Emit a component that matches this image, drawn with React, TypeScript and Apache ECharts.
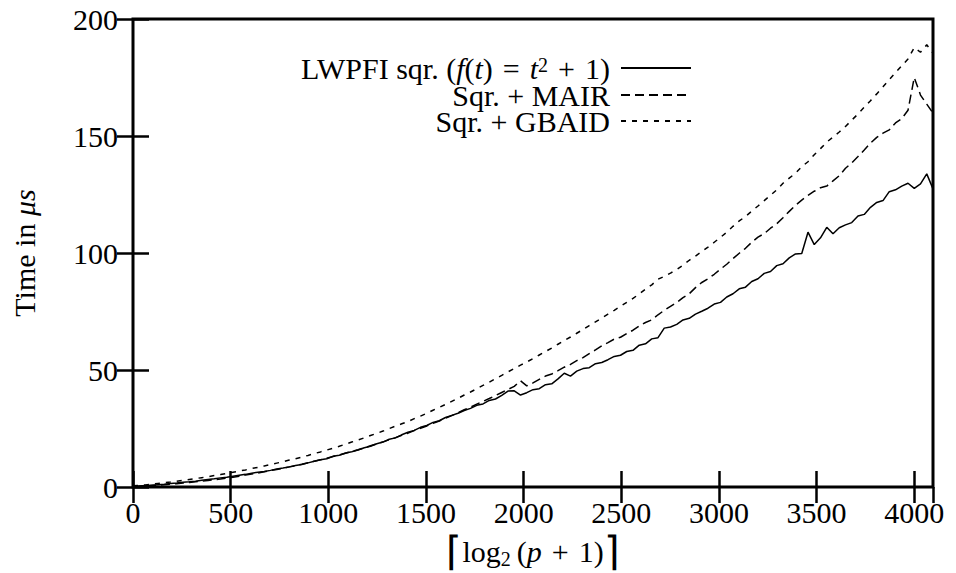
import React, { useEffect, useRef } from 'react';
import * as echarts from 'echarts';

// Sample spacing along the x axis (⌈log2(p+1)⌉), from 0 to 4096
const X_STEP = 32;
const X_MAX = 4096;

// Running time in µs, one value per X_STEP
const lwpfiSqr = [
  0.3, 0.4, 0.6, 0.8, 1.0, 1.2, 1.5, 1.7, 2.0, 2.2,
  2.5, 2.9, 3.2, 3.5, 3.9, 4.2, 4.6, 5.0, 5.4, 5.9,
  6.3, 6.6, 7.1, 7.7, 8.1, 8.6, 9.2, 9.6, 10.3, 11.0,
  11.6, 12.1, 13.1, 13.6, 14.5, 15.1, 15.8, 16.8, 17.4, 18.5,
  19.2, 20.4, 21.0, 22.3, 23.4, 24.2, 25.5, 26.3, 27.6, 28.3,
  29.7, 30.6, 31.5, 32.7, 33.6, 34.9, 35.5, 37.0, 37.6, 39.2,
  41.0, 41.1, 39.3, 40.3, 41.6, 42.0, 43.7, 44.1, 46.2, 48.6,
  47.4, 49.5, 50.6, 51.0, 52.7, 53.2, 54.4, 55.8, 56.3, 57.9,
  58.4, 60.6, 61.2, 63.3, 63.8, 67.9, 68.4, 69.5, 71.4, 72.1,
  73.9, 75.1, 76.4, 78.2, 78.9, 81.2, 82.6, 84.7, 85.4, 87.8,
  89.0, 91.3, 92.1, 94.6, 95.4, 97.9, 99.6, 99.8, 108.9, 103.6,
  106.5, 111.0, 108.2, 110.8, 112.0, 113.0, 115.8, 116.5, 119.5, 121.6,
  122.4, 126.2, 127.0, 128.6, 129.8, 127.6, 129.5, 133.8, 127.4,
];

const sqrMair = [
  0.2, 0.3, 0.4, 0.6, 0.8, 1.0, 1.2, 1.4, 1.7, 1.9,
  2.2, 2.5, 2.8, 3.1, 3.4, 3.8, 4.2, 4.6, 5.1, 5.5,
  6.0, 6.5, 7.0, 7.5, 8.0, 8.6, 9.1, 9.7, 10.4, 11.0,
  11.6, 12.3, 13.0, 13.7, 14.4, 15.2, 15.9, 16.7, 17.6, 18.4,
  19.3, 20.2, 21.1, 22.1, 23.0, 24.1, 25.1, 26.1, 27.2, 28.2,
  29.4, 30.5, 31.7, 33.0, 34.1, 35.4, 36.6, 37.8, 39.1, 40.4,
  41.7, 43.0, 45.4, 43.2, 44.5, 46.0, 47.4, 48.3, 49.7, 51.2,
  52.4, 54.0, 55.3, 57.0, 58.6, 60.3, 61.7, 63.2, 64.0, 65.6,
  67.0, 68.8, 70.3, 71.4, 73.6, 75.5, 77.2, 78.8, 80.9, 82.6,
  85.2, 87.4, 89.0, 90.9, 93.1, 95.2, 97.6, 99.9, 102.0, 104.6,
  106.8, 108.3, 110.6, 112.5, 115.1, 117.8, 120.4, 122.6, 124.6, 126.4,
  127.9, 128.6, 130.8, 133.0, 136.2, 138.5, 141.2, 144.0, 147.0, 149.4,
  151.2, 152.6, 155.6, 157.4, 161.0, 175.0, 167.5, 163.6, 159.8,
];

const sqrGbaid = [
  0.5, 0.7, 0.9, 1.2, 1.5, 1.8, 2.1, 2.5, 2.8, 3.2,
  3.6, 4.0, 4.4, 4.9, 5.3, 5.8, 6.3, 6.8, 7.3, 7.9,
  8.4, 9.0, 9.6, 10.2, 10.8, 11.5, 12.1, 12.8, 13.5, 14.3,
  15.0, 15.8, 16.6, 17.4, 18.3, 19.2, 20.1, 21.0, 22.0, 22.9,
  23.9, 25.0, 26.0, 27.0, 28.0, 29.2, 30.3, 31.5, 32.8, 34.0,
  35.3, 36.6, 37.9, 39.3, 40.6, 42.0, 43.4, 44.8, 46.3, 47.7,
  49.2, 50.6, 52.1, 53.4, 54.9, 56.4, 57.9, 59.4, 61.0, 62.6,
  64.1, 65.7, 67.3, 69.0, 70.6, 72.2, 73.9, 75.5, 77.2, 78.9,
  80.6, 82.5, 84.5, 86.4, 88.8, 90.0, 91.4, 92.9, 94.8, 96.9,
  98.7, 100.6, 102.5, 104.6, 106.7, 108.9, 111.4, 113.7, 115.6, 117.9,
  120.1, 122.4, 124.7, 127.0, 129.8, 132.0, 134.1, 136.9, 139.0, 142.0,
  144.6, 147.4, 149.5, 151.7, 154.1, 156.8, 159.4, 162.3, 165.1, 168.0,
  171.0, 174.1, 177.1, 180.0, 182.9, 187.8, 185.8, 189.0, 185.4,
];

const X_INTERVAL = 500;
const Y_MIN = 0;
const Y_MAX = 200;
const Y_INTERVAL = 50;

const seriesNames = ['LWPFI sqr. (f(t) = t² + 1)', 'Sqr. + MAIR', 'Sqr. + GBAID'];
const legendLabels = [
  '{n|LWPFI sqr. (}{it|f}{n|(}{it|t}{n|)\u2004=\u2004}{it|t}{sup|2}{n|\u2004+\u20041)}',
  '{n|Sqr. + MAIR}',
  '{n|Sqr. + GBAID}',
];
const seriesValues = [lwpfiSqr, sqrMair, sqrGbaid];
const dashPatterns: (string | number[])[] = ['solid', [9, 5], [5, 6]];

const FONT = 'Liberation Serif';
const INK = '#000';
const FS = 30;

const makeRich = (lh: number) => ({
  n: { fontFamily: FONT, fontSize: FS, color: INK, lineHeight: lh },
  it: { fontFamily: FONT, fontSize: FS, fontStyle: 'italic', color: INK, lineHeight: lh },
  sup: { fontFamily: FONT, fontSize: 20, color: INK, verticalAlign: 'top', lineHeight: 12 },
  sub: { fontFamily: FONT, fontSize: 20, color: INK, verticalAlign: 'bottom', lineHeight: 18 },
  br: { fontFamily: FONT, fontSize: 40, color: INK, lineHeight: lh },
});

const tick = { inside: true, length: 16, lineStyle: { color: INK, width: 2.5 } };

export default function App() {
  const ref = useRef<HTMLDivElement>(null);

  useEffect(() => {
    if (!ref.current) return;
    const chart = echarts.init(ref.current, undefined, { renderer: 'svg' });

    const legendTops = [53, 80, 106];
    const legendLineHeights = [26, 24, 24];

    chart.setOption({
      animation: false,
      backgroundColor: '#fff',
      textStyle: { fontFamily: FONT, color: INK },
      grid: {
        left: 133,
        right: 23,
        top: 19,
        bottom: 86,
        outerBoundsMode: 'none',
        show: true,
        borderColor: INK,
        borderWidth: 3,
        backgroundColor: 'transparent',
      },
      legend: seriesNames.map((name, k) => ({
        data: [name],
        orient: 'vertical',
        right: 264,
        top: legendTops[k],
        align: 'right',
        itemWidth: 70,
        itemHeight: 14,
        padding: 0,
        selectedMode: false,
        itemStyle: { opacity: 0, borderWidth: 0 },
        formatter: () => legendLabels[k],
        textStyle: {
          fontFamily: FONT,
          fontSize: FS,
          color: INK,
          lineHeight: legendLineHeights[k],
          padding: [0, 6, 0, 0],
          rich: makeRich(legendLineHeights[k]),
        },
      })),
      xAxis: [
        {
          type: 'value',
          min: 0,
          max: X_MAX,
          interval: X_INTERVAL,
          position: 'bottom',
          axisLine: { show: false, lineStyle: { color: INK } },
          axisTick: tick,
          splitLine: { show: false },
          axisLabel: {
            color: INK,
            fontFamily: FONT,
            fontSize: FS,
            margin: 10,
            showMaxLabel: false,
            formatter: (v: number) => (v % X_INTERVAL === 0 ? `{n|${v}}` : ''),
            rich: makeRich(30),
          },
          name: '{br|⌈}{n|log}{sub|2}{n|\u2009(}{it|p}{n|\u2004+\u20041)}{br|⌉}',
          nameLocation: 'middle',
          nameGap: 37,
          nameTextStyle: { fontFamily: FONT, fontSize: FS, color: INK, lineHeight: 34, rich: makeRich(34) },
        },
        {
          type: 'value',
          min: 0,
          max: X_MAX,
          interval: X_INTERVAL,
          position: 'top',
          axisLine: { show: false },
          axisTick: tick,
          splitLine: { show: false },
          axisLabel: { show: false },
        },
      ],
      yAxis: [
        {
          type: 'value',
          min: Y_MIN,
          max: Y_MAX,
          interval: Y_INTERVAL,
          position: 'left',
          axisLine: { show: false, lineStyle: { color: INK } },
          axisTick: tick,
          splitLine: { show: false },
          axisLabel: {
            color: INK,
            fontFamily: FONT,
            fontSize: FS,
            margin: 15,
            formatter: (v: number) => `{n|${v}}`,
            rich: makeRich(30),
          },
          name: '{n|Time in }{it|μs}',
          nameLocation: 'middle',
          nameGap: 92,
          nameTextStyle: { fontFamily: FONT, fontSize: FS, color: INK, lineHeight: 34, rich: makeRich(34) },
        },
        {
          type: 'value',
          min: Y_MIN,
          max: Y_MAX,
          interval: Y_INTERVAL,
          position: 'right',
          axisLine: { show: false },
          axisTick: tick,
          splitLine: { show: false },
          axisLabel: { show: false },
        },
      ],
      series: seriesNames.map((name, k) => ({
        type: 'line',
        name,
        xAxisIndex: 0,
        yAxisIndex: 0,
        data: seriesValues[k].map((v, i) => [i * X_STEP, v]),
        symbol: 'none',
        silent: true,
        clip: true,
        itemStyle: { color: INK },
        lineStyle: { color: INK, width: 1.5, type: dashPatterns[k] },
      })),
    });

    return () => chart.dispose();
  }, []);

  return (
    <div
      ref={ref}
      style={{ position: 'absolute', left: 0, top: 0, width: 956, height: 573 }}
    />
  );
}
